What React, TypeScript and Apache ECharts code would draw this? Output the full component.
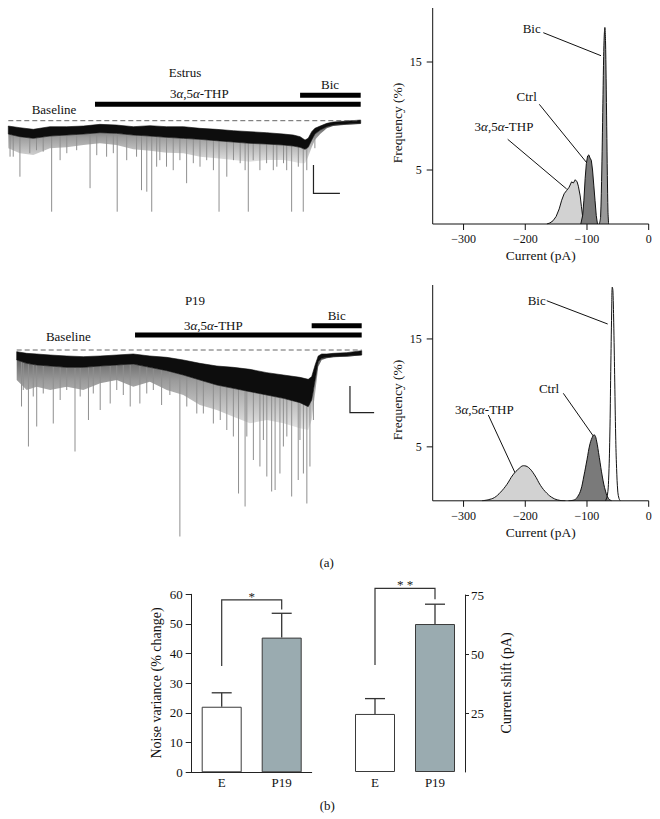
import React, { useEffect, useRef } from 'react';
import * as echarts from 'echarts';

const FONT = '"Liberation Serif", "DejaVu Serif", serif';

// ---------- (a) current traces (time in s, current relative to baseline) ----------
const estrusT = [0, 3.3, 7.1, 11.8, 16.6, 21.3, 26.0, 30.7, 35.5, 40.2, 44.9, 49.7, 54.4, 59.1, 63.9, 68.6, 73.3, 78.1, 80.9, 82.8, 84.2, 85.1, 86.1, 87.0, 88.5, 90.4, 92.2, 96.0, 100];
const estrusUpper = [-10.7, -14, -17.3, -12, -12, -10.7, -7.3, -8.7, -12, -10, -12, -12, -15.3, -17.3, -20, -22, -24, -26.7, -28.7, -32, -38.7, -35.3, -22, -15.3, -10.7, -5.3, -2.7, -0.7, 1.3];
const estrusLower = [-26.7, -32, -35.3, -30.7, -28.7, -26.7, -24, -25.3, -28.7, -30.7, -33.3, -35.3, -37.3, -40, -42.7, -45.3, -46.7, -48.7, -50.7, -53.3, -57.3, -53.3, -38.7, -26.7, -18.7, -12, -8.7, -6.7, -5.3];
const estrusFringe = [-55.3, -65.3, -68.7, -55.3, -53.3, -48.7, -45.3, -48.7, -57.3, -60, -64, -65.3, -72, -75.3, -78.7, -82, -78.7, -78.7, -82, -85.3, -85.3, -72, -53.3, -38.7, -26.7, -15.3, -10.7, -8, -6.7];
const estrusSpikeT = [0.5, 3.3, 12.3, 14.7, 23.2, 27.9, 30.9, 33.6, 37.8, 39.3, 40.7, 42.1, 46.8, 50.6, 54.4, 58.2, 59.8, 62.0, 63.9, 67.2, 68.1, 71.4, 76.2, 79.0, 80.4, 83.7, 84.7, 87.0,
  1.4, 6.1, 8.0, 9.9, 16.6, 19.4, 25.1, 29.8, 36.4, 43.0, 44.9, 48.7, 52.5, 56.3, 65.8, 69.5, 73.3, 75.2, 78.1, 82.3];
const estrusSpikeV = [-72, -112, -182, -79, -135, -72, -182, -79, -139, -142, -182, -92, -99, -125, -92, -99, -182, -112, -79, -99, -182, -99, -92, -99, -182, -182, -99, -55,
  -72, -65, -59, -62, -65, -59, -69, -65, -72, -79, -92, -79, -85, -79, -85, -79, -85, -99, -85, -92];
const estrusDrugStart = [24.6, 82.8];
const estrusDrugEnd = [100, 100];
const estrusScaleBar = [86.6, -145.2, 7.5, 56.6]; // t, v, dt, dv

const p19T = [0, 2.9, 5.8, 9.7, 14.5, 19.3, 24.2, 29.0, 33.8, 38.6, 43.5, 48.3, 53.1, 58.0, 62.8, 67.6, 72.5, 77.3, 82.1, 84.5, 85.5, 86.5, 87.4, 88.4, 89.9, 91.8, 95.7, 100];
const p19Upper = [-3.3, -6.7, -8, -10, -12, -13.3, -12, -10, -8, -12, -14.7, -20, -26.7, -32, -34.7, -38.7, -45.3, -50, -54.7, -58.7, -53.3, -30, -12, -8, -8, -6.7, -5.3, -1.3];
const p19Lower = [-20, -26.7, -30, -32, -34.7, -34.7, -32, -30, -28, -34.7, -41.3, -50, -60, -70, -76.7, -83.3, -90, -96.7, -105.3, -113.3, -100, -60, -23.3, -16.7, -14.7, -13.3, -12, -10];
const p19Fringe = [-60, -80, -73.3, -80, -73.3, -80, -66.7, -60, -73.3, -63.3, -80, -90, -110, -120, -133.3, -146.7, -140, -146.7, -156.7, -160, -140, -86.7, -33.3, -20, -16.7, -14.7, -13.3, -10.7];
const p19SpikeT = [1.4, 3.4, 5.8, 10.6, 16.9, 20.8, 24.2, 27.1, 32.9, 35.7, 42.0, 47.3, 52.2, 57.0, 62.8, 64.3, 66.2, 68.6, 70.5, 72.5, 73.9, 74.9, 76.3, 79.7, 81.6, 83.1, 84.1, 85.0,
  1.9, 4.8, 7.7, 12.6, 14.5, 18.4, 22.2, 29.0, 30.9, 37.7, 39.6, 44.4, 49.3, 54.1, 59.0, 60.9, 66.7, 71.5, 77.3, 78.3, 82.1, 86.0];
const p19SpikeV = [-113, -193, -153, -147, -203, -140, -120, -107, -113, -107, -110, -373, -127, -147, -173, -287, -313, -220, -233, -253, -283, -280, -247, -293, -260, -247, -307, -233,
  -80, -93, -87, -100, -80, -93, -87, -80, -90, -87, -80, -90, -113, -127, -140, -160, -173, -180, -193, -173, -180, -140];
const p19DrugStart = [34.3, 85.5];
const p19DrugEnd = [100, 100];
const p19ScaleBar = [96.6, -125.4, 7.0, 53.4];

// ---------- (a) amplitude histograms (pA, %) ----------
const histXMin = -350;
const histXMax = 0;
const histYMax = 20;
const histTicks = [-300, -200, -100, 0];
const histYTicks = [5, 15];
const estrusThpX = [-165, -160, -155, -150, -145, -141, -137, -133, -129, -125, -122, -119, -116, -114, -111, -109, -107, -105];
const estrusThpY = [0, 0.1, 0.3, 0.7, 1.4, 2.2, 2.8, 3.1, 3.4, 3.9, 3.8, 4.1, 3.9, 3.5, 2.6, 1.6, 0.7, 0];
const estrusCtrlX = [-110, -107, -105, -103, -101, -99, -97, -95, -93, -91, -89, -87, -85, -83];
const estrusCtrlY = [0, 0.8, 2.2, 4.2, 5.6, 6.3, 6.4, 6.1, 5.9, 5.0, 3.6, 2.2, 0.8, 0];
const estrusBicX = [-80, -78, -76, -74, -73, -72, -71, -70, -69, -68, -67, -66, -65];
const estrusBicY = [0, 0.6, 5, 12, 15.5, 17.5, 18.2, 17, 13.5, 9, 4.5, 1.2, 0];

const p19ThpX = [-270, -260, -250, -240, -230, -220, -210, -203, -195, -185, -175, -165, -155, -145, -135];
const p19ThpY = [0, 0.1, 0.3, 0.8, 1.5, 2.4, 3.0, 3.25, 3.1, 2.4, 1.4, 0.7, 0.25, 0.05, 0];
const p19CtrlX = [-130, -120, -115, -110, -105, -100, -95, -90, -88, -85, -80, -75, -70, -65, -60];
const p19CtrlY = [0, 0.1, 0.4, 1.0, 2.3, 3.8, 5.3, 6.05, 6.1, 5.7, 4.0, 2.2, 0.9, 0.2, 0];
const p19BicX = [-70, -67, -65, -63, -61.5, -60, -59, -58, -56.5, -55, -53.5, -52, -50, -48, -46];
const p19BicY = [0, 0.5, 1.9, 6, 12, 17.5, 19.8, 19.5, 16, 11, 6, 3, 0.8, 0.2, 0];

// ---------- (b) bar chart ----------
const barCats = ['E', 'P19'];
const noiseMean = [22.1, 45.4];
const noiseErr = [4.7, 8.2];
const shiftMean = [24.6, 62.7];
const shiftErr = [6.5, 8.4];
const noiseBracket = [35.8, 58.1, 54.9];
const shiftBracket = [45.3, 77.8, 73.2];

// ---------- layout/style constants ----------
const DRUG_LEVEL_ESTRUS = [33, 51];
const DRUG_LEVEL_P19 = [30, 48.4];
const BAR_FILL = ['#ffffff', '#9aabb0'];
const INK = '#111';
const FRINGE_FILL = {
  type: 'linear', x: 0, y: 0, x2: 0, y2: 1,
  colorStops: [{ offset: 0, color: '#5a5a5a' }, { offset: 0.35, color: '#9c9c9c' }, { offset: 1, color: '#e6e6e6' }],
};

function interp(xs: number[], ys: number[], x: number) {
  if (x <= xs[0]) return ys[0];
  for (let i = 1; i < xs.length; i++) {
    if (x <= xs[i]) {
      const f = (x - xs[i - 1]) / (xs[i] - xs[i - 1]);
      return ys[i - 1] + f * (ys[i] - ys[i - 1]);
    }
  }
  return ys[ys.length - 1];
}

function bandSeries(g: number, xs: number[], top: number[], bottom: number[], color: any, z: number) {
  return {
    type: 'custom', xAxisIndex: g, yAxisIndex: g, clip: false, z, silent: true,
    data: [[xs[0], top[0]]],
    renderItem: (_p: any, api: any) => {
      const pts: number[][] = [];
      xs.forEach((x, i) => pts.push(api.coord([x, top[i]])));
      for (let i = xs.length - 1; i >= 0; i--) pts.push(api.coord([xs[i], bottom[i]]));
      return { type: 'polygon', shape: { points: pts }, style: { fill: color, stroke: typeof color === 'string' ? color : null, lineWidth: 0.6 } };
    },
  };
}

function spikeSeries(g: number, ts: number[], vs: number[], xs: number[], lower: number[]) {
  return {
    type: 'custom', xAxisIndex: g, yAxisIndex: g, clip: false, z: 3, silent: true,
    data: ts.map((t, i) => [t, vs[i]]),
    renderItem: (_p: any, api: any) => {
      const t = api.value(0);
      const v = api.value(1);
      const a = api.coord([t, interp(xs, lower, t)]);
      const b = api.coord([t, v]);
      return { type: 'line', shape: { x1: a[0], y1: a[1], x2: b[0], y2: b[1] }, style: { stroke: '#8f8f8f', lineWidth: 1 } };
    },
  };
}

function decorSeries(g: number, drugStart: number[], drugEnd: number[], levels: number[], scale: number[]) {
  return {
    type: 'custom', xAxisIndex: g, yAxisIndex: g, clip: false, z: 6, silent: true,
    data: [[0, 0]],
    renderItem: (_p: any, api: any) => {
      const children: any[] = [];
      const b0 = api.coord([0, 0]);
      const b1 = api.coord([100, 0]);
      children.push({ type: 'line', shape: { x1: b0[0], y1: b0[1], x2: b1[0], y2: b1[1] }, style: { stroke: '#666', lineWidth: 1, lineDash: [5, 3] } });
      drugStart.forEach((s, i) => {
        const p0 = api.coord([s, levels[i]]);
        const p1 = api.coord([drugEnd[i], levels[i]]);
        children.push({ type: 'rect', shape: { x: p0[0], y: p0[1] - 2.5, width: p1[0] - p0[0], height: 5 }, style: { fill: '#000' } });
      });
      const [t, v, dt, dv] = scale;
      const q0 = api.coord([t, v + dv]);
      const q1 = api.coord([t, v]);
      const q2 = api.coord([t + dt, v]);
      children.push({ type: 'polyline', shape: { points: [q0, q1, q2] }, style: { stroke: '#222', lineWidth: 1.2, fill: null } });
      return { type: 'group', children };
    },
  };
}

// both axes of a histogram panel (lines, ticks, labels), drawn through the panel's scales
function histAxesSeries(g: number) {
  return {
    type: 'custom', xAxisIndex: g, yAxisIndex: g, clip: false, z: 10, silent: true,
    data: [[histXMin, 0]],
    renderItem: (_p: any, api: any) => {
      const st = { stroke: INK, lineWidth: 1 };
      const lab = (text: string, x: number, y: number, align: string, va: string) => ({
        type: 'text', x, y, style: { text, fontFamily: FONT, fontSize: 12, fill: INK, align, verticalAlign: va },
      });
      const o = api.coord([histXMin, 0]);
      const xe = api.coord([histXMax, 0]);
      const ye = api.coord([histXMin, histYMax]);
      const children: any[] = [
        { type: 'line', shape: { x1: o[0], y1: o[1], x2: xe[0], y2: xe[1] }, style: st },
        { type: 'line', shape: { x1: o[0], y1: o[1], x2: ye[0], y2: ye[1] }, style: st },
      ];
      histTicks.forEach((v) => {
        const p = api.coord([v, 0]);
        children.push({ type: 'line', shape: { x1: p[0], y1: p[1], x2: p[0], y2: p[1] + 6 }, style: st });
        children.push(lab(String(v).replace('-', '\u2212'), p[0], p[1] + 9, 'center', 'top'));
      });
      histYTicks.forEach((v) => {
        const p = api.coord([histXMin, v]);
        children.push({ type: 'line', shape: { x1: p[0] - 6, y1: p[1], x2: p[0], y2: p[1] }, style: st });
        children.push(lab(String(v), p[0] - 11, p[1], 'right', 'middle'));
      });
      return { type: 'group', children };
    },
  };
}

function histSeries(g: number, xs: number[], ys: number[], fill: string | null, z: number, smooth: number) {
  const s: any = {
    type: 'line', xAxisIndex: g, yAxisIndex: g, symbol: 'none', z, smooth, silent: true,
    data: xs.map((x, i) => [x, ys[i]]),
    lineStyle: { color: INK, width: 1 },
  };
  if (fill) s.areaStyle = { color: fill, opacity: 1 };
  return s;
}

function errorSeries(g: number, mean: number[], err: number[]) {
  return {
    type: 'custom', xAxisIndex: g, yAxisIndex: g, clip: false, z: 5, silent: true,
    data: mean.map((m, i) => [i, m, m + err[i]]),
    renderItem: (_p: any, api: any) => {
      const a = api.coord([api.value(0), api.value(1)]);
      const b = api.coord([api.value(0), api.value(2)]);
      const st = { stroke: '#333', lineWidth: 1.3 };
      return {
        type: 'group', children: [
          { type: 'line', shape: { x1: a[0], y1: a[1], x2: a[0], y2: b[1] }, style: st },
          { type: 'line', shape: { x1: a[0] - 10, y1: b[1], x2: a[0] + 10, y2: b[1] }, style: st },
        ],
      };
    },
  };
}

function bracketSeries(g: number, vals: number[], star: string) {
  return {
    type: 'custom', xAxisIndex: g, yAxisIndex: g, clip: false, z: 5, silent: true,
    data: [[0, 1, vals[0], vals[1], vals[2]]],
    renderItem: (_p: any, api: any) => {
      const l0 = api.coord([api.value(0), api.value(2)]);
      const lt = api.coord([api.value(0), api.value(3)]);
      const rt = api.coord([api.value(1), api.value(3)]);
      const r0 = api.coord([api.value(1), api.value(4)]);
      return {
        type: 'group', children: [
          { type: 'polyline', shape: { points: [l0, lt, rt, r0] }, style: { stroke: '#333', lineWidth: 1.2, fill: null } },
          { type: 'text', x: (lt[0] + rt[0]) / 2, y: lt[1] + 3, style: { text: star, fontFamily: FONT, fontSize: 13, fill: '#222', align: 'center', verticalAlign: 'bottom' } },
        ],
      };
    },
  };
}

const rich = { i: { fontStyle: 'italic', fontFamily: FONT, fontSize: 13, fill: INK } };
function txt(x: number, y: number, text: string, size = 13, rot = 0) {
  return {
    type: 'text', x, y, rotation: rot, silent: true,
    style: { text, fontFamily: FONT, fontSize: size, fill: INK, align: 'center', verticalAlign: 'middle', rich },
  };
}
function seg(x1: number, y1: number, x2: number, y2: number) {
  return { type: 'line', silent: true, shape: { x1, y1, x2, y2 }, style: { stroke: INK, lineWidth: 1 } };
}

export default function App() {
  const ref = useRef<HTMLDivElement>(null);
  useEffect(() => {
    if (!ref.current) return;
    const chart = echarts.init(ref.current, undefined, { renderer: 'svg' });
    const thp = '3{i|α},5{i|α}-THP';
    chart.setOption({
      animation: false,
      backgroundColor: '#ffffff',
      grid: [
        { left: 8.3, top: 115.7, width: 352.4, height: 100, show: false },
        { left: 16.7, top: 345, width: 345, height: 195, show: false },
        { left: 432.7, top: 8, width: 216, height: 216, show: false },
        { left: 432.7, top: 285, width: 216, height: 215.8, show: false },
        { left: 191.7, top: 594.3, width: 120, height: 178, show: false },
        { left: 345, top: 595, width: 120, height: 177, show: false },
      ],
      xAxis: [
        { gridIndex: 0, type: 'value', min: 0, max: 100, show: false },
        { gridIndex: 1, type: 'value', min: 0, max: 100, show: false },
        { gridIndex: 2, type: 'value', min: histXMin, max: histXMax, show: false },
        { gridIndex: 3, type: 'value', min: histXMin, max: histXMax, show: false },
        {
          gridIndex: 4, type: 'category', position: 'bottom', data: barCats,
          axisLine: { show: true, lineStyle: { color: '#222' } }, axisTick: { show: false },
          axisLabel: { fontFamily: FONT, fontSize: 13, color: INK, margin: 4 },
        },
        {
          gridIndex: 5, type: 'category', position: 'bottom', data: barCats,
          axisLine: { show: false }, axisTick: { show: false },
          axisLabel: { fontFamily: FONT, fontSize: 13, color: INK, margin: 4 },
        },
      ],
      yAxis: [
        { gridIndex: 0, type: 'value', min: -190, max: 10, show: false },
        { gridIndex: 1, type: 'value', min: -380, max: 10, show: false },
        { gridIndex: 2, type: 'value', min: 0, max: histYMax, show: false },
        { gridIndex: 3, type: 'value', min: 0, max: histYMax, show: false },
        {
          gridIndex: 4, type: 'value', position: 'left', min: 0, max: 60, interval: 10,
          axisLine: { show: true, lineStyle: { color: '#222' } },
          axisTick: { show: true, length: 6, lineStyle: { color: '#222' } },
          axisLabel: { fontFamily: FONT, fontSize: 13, color: INK, margin: 9 },
          splitLine: { show: false },
        },
        {
          gridIndex: 5, type: 'value', position: 'right', min: 0, max: 75, interval: 25,
          axisLine: { show: true, lineStyle: { color: '#222' } },
          axisTick: { show: true, length: 4, customValues: [25, 50, 75], lineStyle: { color: '#222' } },
          axisLabel: { customValues: [25, 50, 75], fontFamily: FONT, fontSize: 13, color: INK, margin: 6 },
          splitLine: { show: false },
        },
      ],
      series: [
        bandSeries(0, estrusT, estrusLower, estrusFringe, FRINGE_FILL, 2),
        spikeSeries(0, estrusSpikeT, estrusSpikeV, estrusT, estrusLower),
        bandSeries(0, estrusT, estrusUpper, estrusLower, '#0d0d0d', 4),
        decorSeries(0, estrusDrugStart, estrusDrugEnd, DRUG_LEVEL_ESTRUS, estrusScaleBar),
        bandSeries(1, p19T, p19Lower, p19Fringe, FRINGE_FILL, 2),
        spikeSeries(1, p19SpikeT, p19SpikeV, p19T, p19Lower),
        bandSeries(1, p19T, p19Upper, p19Lower, '#0d0d0d', 4),
        decorSeries(1, p19DrugStart, p19DrugEnd, DRUG_LEVEL_P19, p19ScaleBar),
        histAxesSeries(2),
        histAxesSeries(3),
        histSeries(2, estrusThpX, estrusThpY, '#d2d2d2', 2, 0),
        histSeries(2, estrusCtrlX, estrusCtrlY, '#7a7a7a', 3, 0),
        histSeries(2, estrusBicX, estrusBicY, '#9a9a9a', 4, 0.3),
        histSeries(3, p19ThpX, p19ThpY, '#d2d2d2', 2, 0.4),
        histSeries(3, p19CtrlX, p19CtrlY, '#7a7a7a', 3, 0.4),
        histSeries(3, p19BicX, p19BicY, null, 4, 0.4),
        {
          type: 'bar', xAxisIndex: 4, yAxisIndex: 4, barWidth: 40, silent: true,
          data: noiseMean.map((v, i) => ({ value: v, itemStyle: { color: BAR_FILL[i], borderColor: '#3a3a3a', borderWidth: 1 } })),
        },
        errorSeries(4, noiseMean, noiseErr),
        bracketSeries(4, noiseBracket, '*'),
        {
          type: 'bar', xAxisIndex: 5, yAxisIndex: 5, barWidth: 40, silent: true,
          data: shiftMean.map((v, i) => ({ value: v, itemStyle: { color: BAR_FILL[i], borderColor: '#3a3a3a', borderWidth: 1 } })),
        },
        errorSeries(5, shiftMean, shiftErr),
        bracketSeries(5, shiftBracket, '* *'),
      ],
      graphic: [
        txt(185, 72.7, 'Estrus'),
        txt(199.3, 93.3, thp),
        txt(330, 84.3, 'Bic'),
        txt(54, 109.3, 'Baseline'),
        txt(195, 300.7, 'P19'),
        txt(213.3, 325, thp),
        txt(336.7, 315, 'Bic'),
        txt(68.3, 336.7, 'Baseline'),
        txt(531.7, 28.3, 'Bic'),
        txt(526.7, 96.7, 'Ctrl'),
        txt(504, 126.7, thp),
        seg(543.3, 32.7, 601, 55.7),
        seg(539.3, 104.3, 586.7, 162.7),
        seg(507.7, 139.3, 566.7, 189),
        txt(536.7, 300.7, 'Bic'),
        txt(549, 388.3, 'Ctrl'),
        txt(484.3, 409.3, thp),
        seg(546.7, 300.7, 607.7, 324),
        seg(563.3, 393.3, 593.3, 436),
        seg(488.3, 415, 515, 472.7),
        txt(397, 123, 'Frequency (%)', 13.5, Math.PI / 2),
        txt(397, 400, 'Frequency (%)', 13.5, Math.PI / 2),
        txt(540.7, 255, 'Current (pA)', 13.5),
        txt(540.7, 532, 'Current (pA)', 13.5),
        txt(326.7, 562.7, '(a)'),
        txt(156.7, 683, 'Noise variance (% change)', 14, Math.PI / 2),
        txt(506, 683, 'Current shift (pA)', 14, Math.PI / 2),
        txt(327.3, 805, '(b)'),
      ],
    });
    return () => chart.dispose();
  }, []);
  return <div ref={ref} style={{ position: 'fixed', left: 0, top: 0, width: 660, height: 819, background: '#fff' }} />;
}
